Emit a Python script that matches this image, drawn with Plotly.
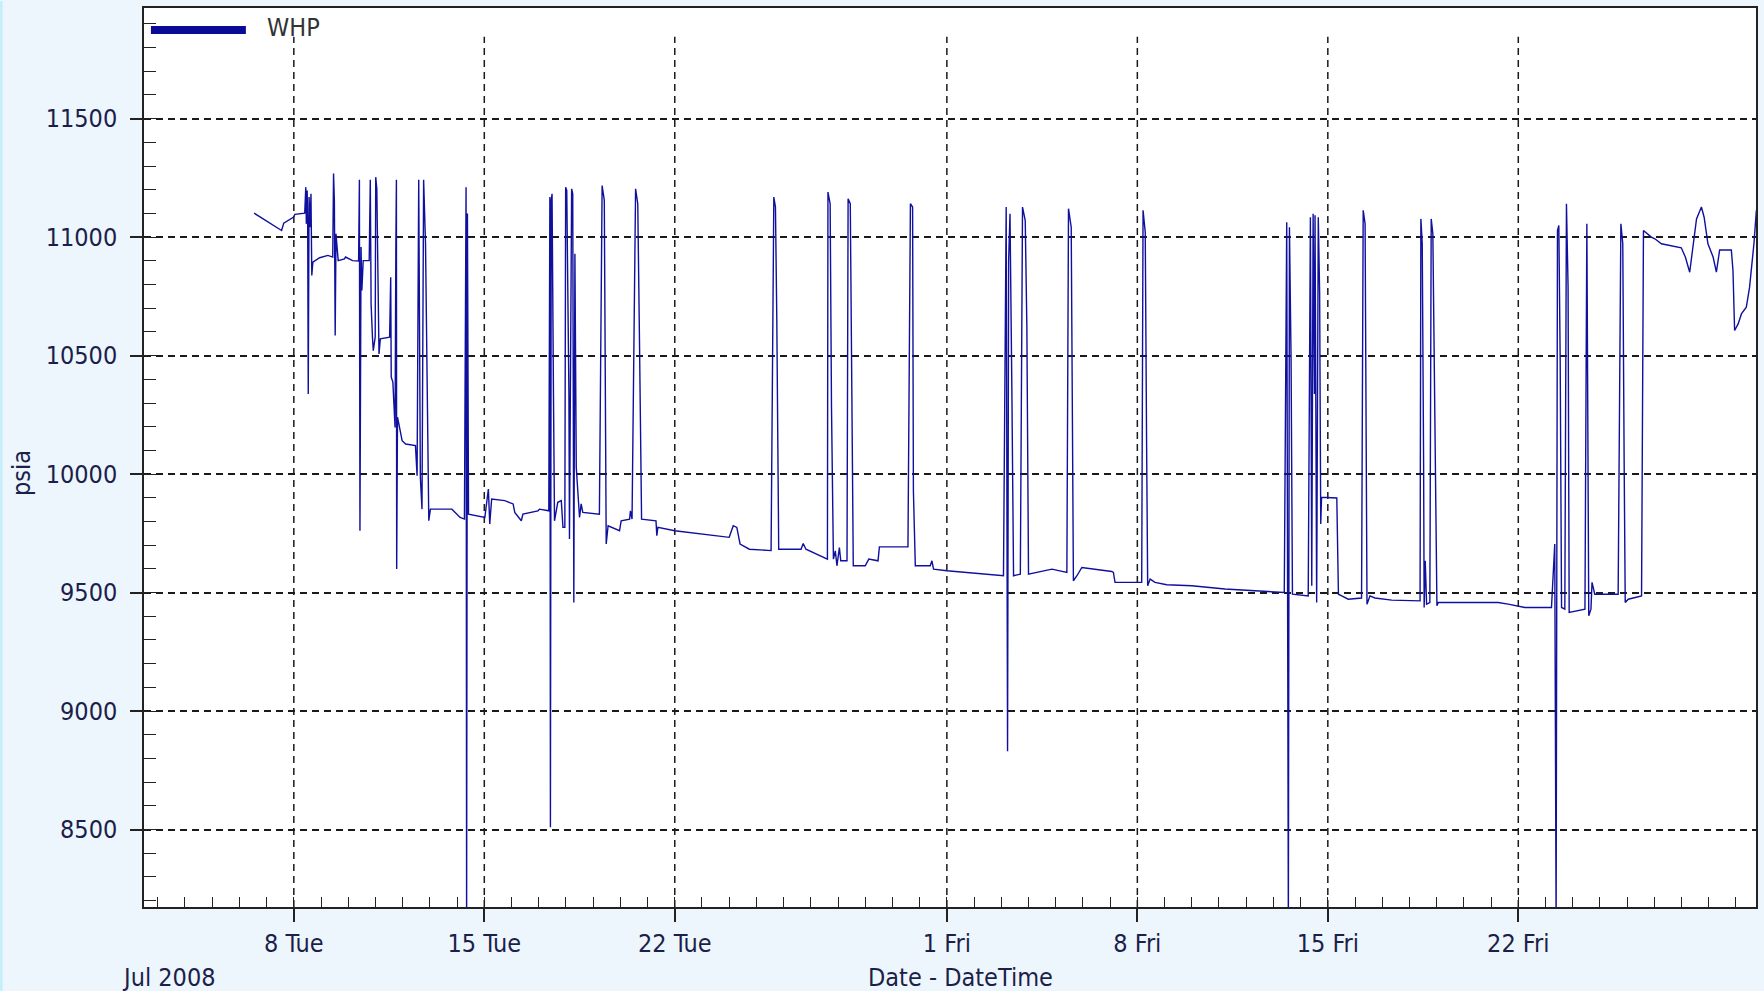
import pandas as pd
import plotly.graph_objects as go

# Wellhead pressure log, July - August 2008
# elapsed time in days counted from 2008-07-01 00:00
elapsed_days = [
    5.54, 6.55, 6.63, 6.79, 6.98, 7.04, 7.40, 7.44, 7.46, 7.49, 7.51, 7.53, 7.56, 7.60, 7.63, 7.66,
    7.70, 7.95, 8.25, 8.43, 8.46, 8.49, 8.52, 8.55, 8.59, 8.63, 8.86, 8.90, 9.16, 9.38, 9.41, 9.43,
    9.47, 9.50, 9.55, 9.77, 9.81, 9.84, 9.89, 9.92, 9.99, 10.01, 10.05, 10.09, 10.13, 10.18, 10.52,
    10.56, 10.58, 10.64, 10.72, 10.75, 10.77, 10.78, 10.81, 10.86, 10.91, 10.98, 11.11, 11.47, 11.53,
    11.59, 11.65, 11.71, 11.77, 11.84, 11.96, 12.02, 12.32, 12.81, 13.11, 13.27, 13.33, 13.35, 13.38,
    13.42, 14.02, 14.15, 14.20, 14.27, 14.75, 15.06, 15.12, 15.36, 15.42, 15.97,
    16.03, 16.28, 16.37, 16.41, 16.43, 16.46, 16.49, 16.54, 16.58, 16.70, 16.83, 16.89, 16.96, 16.99,
    17.03, 17.11, 17.13, 17.21, 17.25, 17.29, 17.33, 17.38, 17.44, 17.50, 17.56, 17.62, 18.23, 18.33,
    18.41, 18.45, 18.48, 18.55, 18.97, 19.03, 19.34, 19.37, 19.43, 19.56, 19.64, 19.70, 19.78, 20.31,
    20.34, 20.38, 21.00, 23.00, 23.15, 23.28, 23.40, 23.74, 24.54, 24.64, 24.70, 24.75, 24.82, 25.64,
    25.72, 25.82, 26.55,
    26.61, 26.63, 26.71, 26.76, 26.83, 26.90, 26.96, 27.05, 27.10, 27.33, 27.37, 27.45, 27.51, 27.56,
    28.00, 28.13, 28.47, 28.52, 29.57, 29.66, 29.74, 29.77, 29.84, 30.39, 30.45, 30.51, 31.00, 33.08,
    33.18, 33.23, 33.27, 33.32, 33.39, 33.45, 33.70, 33.78, 33.88, 33.94, 34.00, 34.86, 35.41, 35.47,
    35.57, 35.65, 35.78, 35.96, 37.06, 37.12,
    37.18, 38.16, 38.21, 38.29, 38.34, 38.38, 38.47, 38.65, 39.08, 40.00, 41.22, 42.45, 43.40, 43.49,
    43.55, 43.59, 43.65, 43.70, 44.28, 44.36, 44.41, 44.46, 44.51, 44.53, 44.59, 44.65, 44.70, 44.74,
    44.77, 45.33, 45.39, 45.51, 45.75, 46.24, 46.30, 46.37, 46.40, 46.44, 46.55, 46.73, 47.35, 47.96,
    48.39, 48.42, 48.47, 48.52, 48.54, 48.58, 48.63, 48.75, 48.80, 48.86, 48.94, 49.01, 49.06, 51.26,
    51.63, 52.00, 52.24, 53.22, 53.34, 53.39, 53.44, 53.49, 53.54, 53.59, 53.71, 53.77, 53.83, 53.87,
    54.45, 54.52, 54.56, 54.59, 54.67, 54.71, 54.81, 55.67, 55.77, 55.84, 55.89, 55.93, 56.04, 56.53,
    56.60, 56.89, 57.02, 57.26, 57.99, 58.14, 58.30, 58.42, 58.55, 58.73, 58.83, 58.97, 59.16, 59.28,
    59.40, 59.83, 59.89, 59.95, 60.08, 60.20, 60.38, 60.50, 60.66, 60.75,
]

whp_psia = [
    11101, 11028, 11059, 11070, 11084, 11096, 11101, 11211, 11056, 11197, 11042, 10338, 11169, 11042, 11183, 10838,
    10894, 10913, 10923, 10916, 11268, 11155, 10585, 11014, 10958, 10901, 10908, 10916, 10901, 10899, 11242, 9761,
    10958, 10775, 10901, 10901, 11242, 10718, 10578, 10521, 10578, 11253, 11204, 10775, 10507, 10571, 10578,
    10831, 10409, 10388, 10197, 10958, 11242, 9599, 10240, 10212, 10183, 10141, 10127, 10120, 9993,
    11242, 9986, 9852, 11242, 10972, 9803, 9852, 9852, 9852, 9817, 9810, 11211, 8100, 11100,
    9831, 9817, 9937, 9789, 9895, 9888, 9874, 9838, 9803, 9831, 9845,
    9852, 9845, 9845, 11169, 8510, 11155, 11183, 10366, 9803, 9881, 9888, 9775, 9775, 11211,
    11197, 10338, 9726, 11204, 11183, 9458, 10930, 10028, 9930, 9817, 9874, 9838, 9831, 11218,
    11155, 10479, 9705, 9782, 9761, 9803, 9810, 9845, 9810, 11204, 11141, 10592, 9810, 9803,
    9740, 9775, 9761, 9733, 9782, 9775, 9705, 9683, 9677, 11169, 11127, 10648, 9683, 9683,
    9707, 9683, 9645,
    9641, 11190, 11141, 10282, 9641, 9676, 9613, 9690, 9634, 9634, 11162, 11141, 10197, 9613,
    9613, 9641, 9634, 9693, 9693, 11141, 11127, 9930, 9613, 9613, 9634, 9599, 9592, 9571,
    11127, 8830, 10901, 11099, 10338, 9571, 9578, 11127, 11070, 10620, 9578, 9599, 9585, 11120,
    11042, 9550, 9571, 9606, 9589, 9585,
    9543, 9543, 11113, 11021, 10127, 9529, 9557, 9543, 9533, 9529, 9515, 9508, 9500, 11063,
    8100, 11042, 10479, 9493, 9486, 11084, 9529, 11099, 10338, 11092, 9458, 11084, 10761, 9789,
    9902, 9899, 9493, 9486, 9472, 9477, 11113, 11056, 10057, 9451, 9486, 9477, 9468, 9465,
    9465, 11077, 10972, 10057, 9437, 9634, 9451, 9458, 11077, 11014, 10197, 9444, 9458, 9458,
    9451, 9444, 9437, 9437, 9705, 8100, 11028, 11049, 10479, 9437, 9430, 11141, 10789, 9416,
    9430, 11056, 10197, 9402, 9430, 9543, 9493, 9493, 11056, 10972, 10057, 9458, 9472, 9486,
    11028, 11000, 10993, 10972, 10955, 10916, 10852, 10955, 11077, 11127, 11084, 10972, 10916, 10852,
    10946, 10946, 10859, 10606, 10634, 10676, 10704, 10789, 10972, 11113,
]

series_name = "WHP"
start_time = pd.Timestamp("2008-07-01 00:00")

date_ticks = ["2008-07-08", "2008-07-15", "2008-07-22", "2008-08-01",
              "2008-08-08", "2008-08-15", "2008-08-22"]
date_tick_text = ["8 Tue", "15 Tue", "22 Tue", "1 Fri", "8 Fri", "15 Fri", "22 Fri"]
psia_ticks = [8500, 9000, 9500, 10000, 10500, 11000, 11500]
psia_tick_text = ["8500", "9000", "9500", "10000", "10500", "11000", "11500"]

n = min(len(elapsed_days), len(whp_psia))
times = start_time + pd.to_timedelta(pd.Series(elapsed_days[:n]), unit="D")
values = whp_psia[:n]

FONT = "DejaVu Sans Condensed, DejaVu Sans, sans-serif"
LABEL = "#1b1f4a"
GRID_DASH = "7px,5px"

fig = go.Figure()
fig.add_trace(go.Scatter(
    x=times, y=values, mode="lines", name=series_name,
    line=dict(color="#10109e", width=1.4),
    showlegend=False,
))

# vertical dashed grid at the weekly date ticks
shapes = []
for d in date_ticks:
    shapes.append(dict(type="line", xref="x", yref="paper", x0=d, x1=d, y0=0, y1=0.968,
                       line=dict(color="#1a1a1a", width=1.5, dash=GRID_DASH), layer="below"))
# legend swatch
shapes.append(dict(type="line", xref="paper", yref="paper", x0=0.0043, x1=0.0632,
                   y0=0.9756, y1=0.9756, line=dict(color="#0a0a96", width=8)))
# thin window edge on the far left
shapes.append(dict(type="rect", xref="paper", yref="paper", x0=-0.0892, x1=-0.0878,
                   y0=-0.0933, y1=1.0078, line=dict(width=0), fillcolor="#bfeef8"))

annotations = [
    dict(text=series_name, xref="paper", yref="paper", x=0.075, y=0.978,
         xanchor="left", yanchor="middle", showarrow=False,
         font=dict(family=FONT, size=25, color="#333333")),
    dict(text="psia", xref="paper", yref="paper", x=-0.0756, y=0.483, textangle=-90,
         xanchor="center", yanchor="middle", showarrow=False,
         font=dict(family=FONT, size=25, color=LABEL)),
    dict(text="Jul 2008", xref="paper", yref="paper", x=0.0155, y=-0.078,
         xanchor="center", yanchor="middle", showarrow=False,
         font=dict(family=FONT, size=25, color=LABEL)),
    dict(text="Date - DateTime", xref="paper", yref="paper", x=0.5068, y=-0.078,
         xanchor="center", yanchor="middle", showarrow=False,
         font=dict(family=FONT, size=25, color=LABEL)),
]

fig.update_layout(
    width=1764, height=991,
    margin=dict(l=144, r=6, t=7, b=84),
    paper_bgcolor="#eef6fd",
    plot_bgcolor="#ffffff",
    shapes=shapes,
    annotations=annotations,
    showlegend=False,
)

fig.update_xaxes(
    type="date",
    range=["2008-07-02 11:51", "2008-08-30 17:40"],
    tickmode="array", tickvals=date_ticks, ticktext=date_tick_text,
    ticks="outside", ticklen=13, tickwidth=1.5, tickcolor="#222222",
    tickfont=dict(family=FONT, size=25, color=LABEL),
    showgrid=False, zeroline=False,
    showline=True, linecolor="#222222", linewidth=1.8, mirror=True,
    minor=dict(ticks="inside", ticklen=10, tickwidth=1.2, tickcolor="#222222",
               tick0="2008-07-01", dtick=86400000, showgrid=False),
)

fig.update_yaxes(
    range=[8173, 11967],
    tickmode="array", tickvals=psia_ticks, ticktext=psia_tick_text,
    ticks="outside", ticklen=12, tickwidth=1.5, tickcolor="#222222",
    ticklabelstandoff=8,
    tickfont=dict(family=FONT, size=25, color=LABEL),
    showgrid=True, gridcolor="#1a1a1a", gridwidth=1.5, griddash=GRID_DASH,
    zeroline=False,
    showline=True, linecolor="#222222", linewidth=1.5, mirror=True,
    minor=dict(ticks="inside", ticklen=12, tickwidth=1.2, tickcolor="#222222",
               dtick=100, showgrid=False),
)

fig.write_html("out.html")
